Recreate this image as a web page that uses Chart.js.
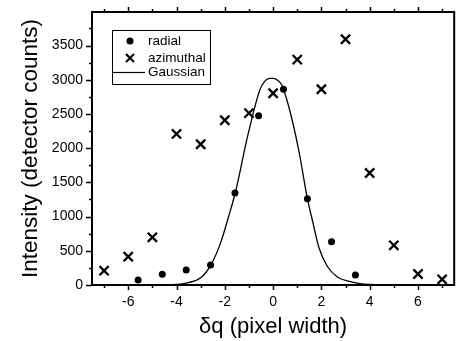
<!DOCTYPE html>
<html><head><meta charset="utf-8">
<script src="https://cdn.jsdelivr.net/npm/chart.js@4/dist/chart.umd.min.js"></script>
<style>html,body{margin:0;padding:0;background:#fff;}canvas{display:block;}</style>
</head><body>
<canvas id="c" width="463" height="341"></canvas>
<script>
// ---- data ----
const radialX = [-5.59, -4.59, -3.6, -2.59, -1.58, -0.6, 0.43, 1.42, 2.42, 3.41];
const radialY = [73, 156, 219, 292, 1345, 2475, 2860, 1262, 633, 146];
const azimuthalX = [-7, -6, -5, -4, -3, -2, -1, 0, 1, 2, 3, 4, 5, 6, 7];
const azimuthalY = [209, 414, 697, 2208, 2057, 2408, 2512, 2802, 3294, 2861, 3592, 1637, 580, 161, 83];
const gaussX = [-5, -4.5, -4, -3.5, -3, -2.6, -2.2, -1.85, -1.55, -1.35, -1.15, -0.95, -0.75, -0.55, -0.35, -0.15, 0, 0.2, 0.35, 0.55, 0.85, 1.1, 1.4, 1.65, 1.9, 2.25, 2.65, 3.2, 3.6, 4, 4.5, 5];
const gaussY = [0, 2, 8, 35, 105, 280, 590, 990, 1370, 1690, 2030, 2330, 2610, 2850, 2975, 3020, 3020, 2990, 2930, 2730, 2320, 1900, 1300, 910, 545, 270, 120, 48, 20, 8, 2, 0];
const xMajorTicks = [-6, -4, -2, 0, 2, 4, 6];
const xMinorTicks = [-7, -5, -3, -1, 1, 3, 5, 7];
const yMajorTicks = [0, 500, 1000, 1500, 2000, 2500, 3000, 3500];
const yMinorTicks = [250, 750, 1250, 1750, 2250, 2750, 3250, 3750];
const seriesNames = ['radial', 'azimuthal', 'Gaussian'];
const xTitle = 'δq (pixel width)';
const yTitle = 'Intensity (detector counts)';

const FONT = '"Liberation Sans", Arial, Helvetica, sans-serif';
const toPts = (xs, ys) => xs.map((x, i) => ({x: x, y: ys[i]}));

const framePlugin = {
  id: 'frame',
  afterDatasetsDraw(chart) {
    const {ctx, chartArea: a, scales: {x, y}} = chart;
    ctx.save();
    ctx.strokeStyle = '#000';
    ctx.lineWidth = 2;
    ctx.strokeRect(a.left, a.top, a.right - a.left, a.bottom - a.top);
    ctx.lineWidth = 1.5;
    ctx.beginPath();
    const tick = (v, len, axis) => {
      if (axis === 'y') {
        const p = Math.round(y.getPixelForValue(v)) + 0.5;
        ctx.moveTo(a.left, p); ctx.lineTo(a.left - len, p);
      } else {
        const p = Math.round(x.getPixelForValue(v)) + 0.5;
        ctx.moveTo(p, a.bottom); ctx.lineTo(p, a.bottom + len);
        ctx.moveTo(p, a.top); ctx.lineTo(p, a.top - len);
      }
    };
    yMajorTicks.forEach(v => tick(v, 6, 'y'));
    yMinorTicks.forEach(v => tick(v, 3, 'y'));
    xMajorTicks.forEach(v => tick(v, 5, 'x'));
    xMinorTicks.forEach(v => tick(v, 3, 'x'));
    ctx.stroke();

    // legend
    const lx = a.left + 20, ly = a.top + 18, lw = 98, lh = 54;
    ctx.fillStyle = '#fff';
    ctx.fillRect(lx, ly, lw, lh);
    ctx.lineWidth = 1;
    ctx.strokeStyle = '#000';
    ctx.strokeRect(lx + 0.5, ly + 0.5, lw, lh);
    const mx = lx + 18, tx = lx + 36;
    const rows = [ly + 11, ly + 28, ly + 42];
    ctx.fillStyle = '#000';
    ctx.beginPath(); ctx.arc(mx, rows[0], 3.5, 0, Math.PI * 2); ctx.fill();
    ctx.lineWidth = 2.2;
    ctx.beginPath();
    ctx.moveTo(mx - 4, rows[1] - 4); ctx.lineTo(mx + 4, rows[1] + 4);
    ctx.moveTo(mx - 4, rows[1] + 4); ctx.lineTo(mx + 4, rows[1] - 4);
    ctx.stroke();
    ctx.lineWidth = 1.2;
    ctx.beginPath(); ctx.moveTo(lx + 1, rows[2] + 0.5); ctx.lineTo(lx + 33, rows[2] + 0.5); ctx.stroke();
    ctx.font = '13.5px ' + FONT;
    ctx.textBaseline = 'middle';
    ctx.textAlign = 'left';
    seriesNames.forEach((n, i) => ctx.fillText(n, tx, rows[i]));
    ctx.restore();
  }
};

new Chart(document.getElementById('c'), {
  type: 'scatter',
  data: {
    datasets: [
      {label: seriesNames[0], data: toPts(radialX, radialY), pointStyle: 'circle', pointRadius: 3.5,
       backgroundColor: '#000', borderColor: '#000', borderWidth: 0, showLine: false},
      {label: seriesNames[1], data: toPts(azimuthalX, azimuthalY), pointStyle: 'crossRot', pointRadius: 6.5,
       backgroundColor: '#000', borderColor: '#000', borderWidth: 2.3, showLine: false},
      {label: seriesNames[2], data: toPts(gaussX, gaussY), showLine: true, pointRadius: 0,
       borderColor: '#000', borderWidth: 1.3, cubicInterpolationMode: 'monotone', fill: false}
    ]
  },
  options: {
    responsive: false,
    animation: false,
    events: [],
    layout: {padding: {top: 12, right: 2, left: 0, bottom: 0}},
    plugins: {legend: {display: false}, tooltip: {enabled: false}},
    scales: {
      x: {
        type: 'linear', min: -7.5, max: 7.5,
        grid: {display: false, drawTicks: false}, border: {display: false},
        afterBuildTicks: s => { s.ticks = xMajorTicks.map(v => ({value: v})); },
        ticks: {autoSkip: false, maxRotation: 0, minRotation: 0,
          color: '#000', font: {family: FONT, size: 14}, padding: 9,
          callback: v => String(v)},
        title: {display: true, text: xTitle, color: '#000', font: {family: FONT, size: 22}, padding: {top: 0, bottom: 1}},
        afterFit: s => { s.height = 56; s.paddingLeft = 0; s.paddingRight = 0; }
      },
      y: {
        type: 'linear', min: 0, max: 3990,
        grid: {display: false, drawTicks: false}, border: {display: false},
        afterBuildTicks: s => { s.ticks = yMajorTicks.map(v => ({value: v})); },
        ticks: {autoSkip: false, color: '#000', font: {family: FONT, size: 14}, padding: 9,
          callback: v => String(v)},
        title: {display: true, text: yTitle, color: '#000', font: {family: FONT, size: 22.5}, padding: {top: 17, bottom: 0}},
        afterFit: s => { s.width = 92; s.paddingTop = 0; s.paddingBottom = 0; }
      }
    }
  },
  plugins: [framePlugin]
});
</script>
</body></html>
